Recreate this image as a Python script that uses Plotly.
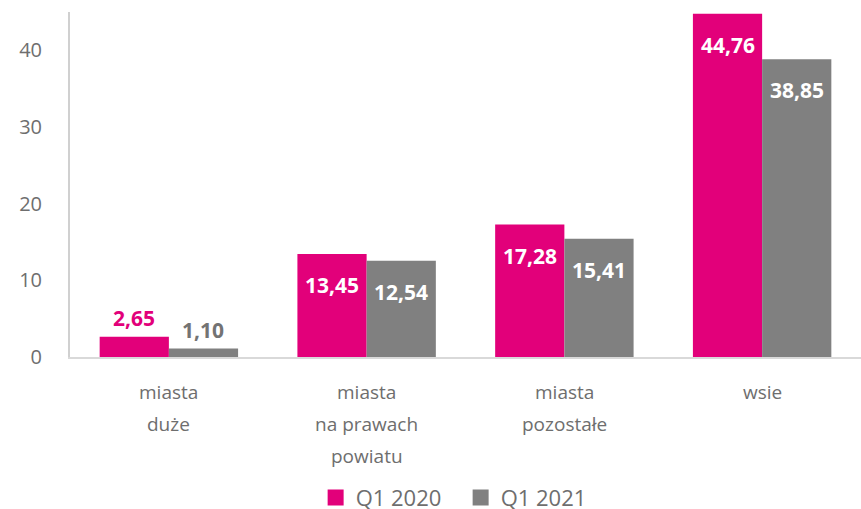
import plotly.graph_objects as go

categories = ["miasta duże", "miasta na prawach powiatu", "miasta pozostałe", "wsie"]
category_lines = [["miasta", "duże"], ["miasta", "na prawach", "powiatu"], ["miasta", "pozostałe"], ["wsie"]]
series_names = ["Q1 2020", "Q1 2021"]
q1_2020 = [2.65, 13.45, 17.28, 44.76]
q1_2021 = [1.10, 12.54, 15.41, 38.85]
y_ticks = [0, 10, 20, 30, 40]

PINK = "#E2007A"
GRAY = "#808080"
TXT = "#6e6e6e"
FONT = "Open Sans"

fig = go.Figure()
idx = list(range(len(categories)))
for name, vals, col in [(series_names[0], q1_2020, PINK), (series_names[1], q1_2021, GRAY)]:
    fig.add_trace(go.Bar(x=idx, y=vals, name=name, marker=dict(color=col, line=dict(width=0)),
                         hoverinfo="skip", showlegend=False))
for name, col in [(series_names[0], PINK), (series_names[1], GRAY)]:
    fig.add_trace(go.Scatter(x=[None], y=[None], mode="markers", name=name,
                             marker=dict(symbol="square", size=16, color=col)))

anns = []
for s, (vals, col) in enumerate([(q1_2020, PINK), (q1_2021, GRAY)]):
    off = -0.175 if s == 0 else 0.175
    for i, v in enumerate(vals):
        txt = f"{v:.2f}".replace(".", ",")
        if v > 5:
            anns.append(dict(x=i + off, y=v, xref="x", yref="y", text=txt, showarrow=False,
                             yshift=-31, font=dict(family=FONT, size=21, color="white", weight="bold")))
        else:
            anns.append(dict(x=i + off, y=v, xref="x", yref="y", text=txt, showarrow=False,
                             yshift=19, font=dict(family=FONT, size=21,
                                                  color=PINK if s == 0 else "#737373", weight="bold")))
for i, lines in enumerate(category_lines):
    for j, line in enumerate(lines):
        anns.append(dict(x=i, y=0, xref="x", yref="y", text=line, showarrow=False,
                         yshift=-35 - 32 * j, font=dict(family=FONT, size=19, color=TXT)))

fig.update_layout(
    width=861, height=509,
    margin=dict(l=70, r=0, t=12, b=152, autoexpand=False),
    plot_bgcolor="white", paper_bgcolor="white",
    barmode="group", bargap=0.3, bargroupgap=0,
    font=dict(family=FONT, color=TXT),
    showlegend=True,
    legend=dict(orientation="h", x=0.535, xanchor="center", xref="container",
                y=0.022, yanchor="middle", yref="container",
                font=dict(family=FONT, size=22, color=TXT), traceorder="normal",
                itemwidth=30, tracegroupgap=0, entrywidth=100, entrywidthmode="pixels"),
    annotations=anns,
    xaxis=dict(range=[-0.5, 3.5], showticklabels=False, showgrid=False, zeroline=False,
               showline=True, linecolor="#d9d9d9", linewidth=2, ticks=""),
    yaxis=dict(range=[0, 45], tickvals=y_ticks, showgrid=False, zeroline=False,
               showline=True, linecolor="#d0d0d0", linewidth=2, ticks="",
               tickfont=dict(family=FONT, size=20, color=TXT), ticklabelstandoff=22),
)

fig.write_html("out.html", config={"displayModeBar": False},
               post_script="document.body.style.margin='0';document.body.style.overflow='hidden';")
